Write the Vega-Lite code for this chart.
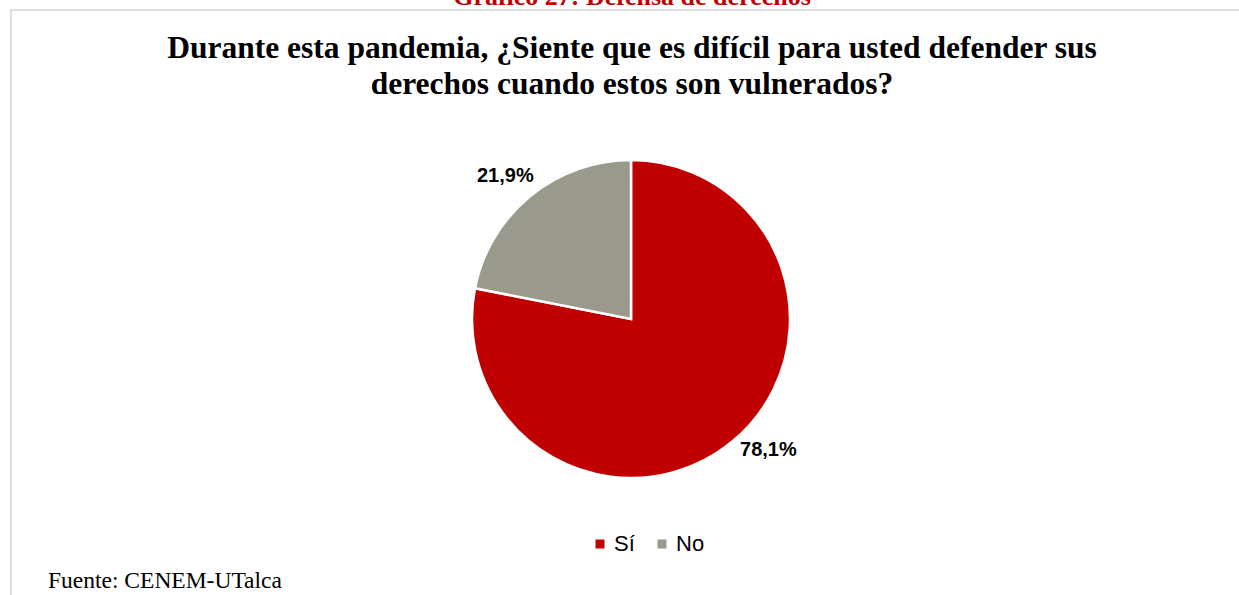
{
  "$schema": "https://vega.github.io/schema/vega-lite/v6.json",
  "width": 1234,
  "height": 590,
  "autosize": "none",
  "padding": {"left": 11, "top": 10, "right": -6, "bottom": -5},
  "background": "white",
  "view": {"stroke": "#d4d4d4", "strokeWidth": 1.5, "fill": "white"},
  "title": {
    "text": "Gráfico 27: Defensa de derechos",
    "subtitle": ["Durante esta pandemia, ¿Siente que es difícil para usted defender sus", "derechos cuando estos son vulnerados?"],
    "anchor": "middle",
    "orient": "top",
    "offset": -90,
    "dx": 4,
    "font": "Liberation Serif",
    "fontSize": 26,
    "fontWeight": "bold",
    "color": "#C00000",
    "subtitleFont": "Liberation Serif",
    "subtitleFontSize": 31.5,
    "subtitleFontWeight": "bold",
    "subtitleColor": "#000000",
    "subtitleLineHeight": 36,
    "subtitlePadding": 23
  },
  "data": {"values": [
    {"cat": "Sí", "pct": 78.1, "label": "78,1%"},
    {"cat": "No", "pct": 21.9, "label": "21,9%"}
  ]},
  "layer": [
    {
      "mark": {"type": "arc", "x": 620, "y": 309, "outerRadius": 159, "stroke": "white", "strokeWidth": 2.5},
      "encoding": {
        "theta": {"field": "pct", "type": "quantitative", "stack": true},
        "order": {"field": "pct", "sort": "descending"},
        "color": {
          "field": "cat", "type": "nominal",
          "scale": {"domain": ["Sí", "No"], "range": ["#C00000", "#9a9a8c"]},
          "legend": {
            "title": null, "orient": "none", "legendX": 578, "legendY": 523,
            "direction": "horizontal", "symbolType": "square", "symbolSize": 81,
            "symbolStrokeWidth": 0, "labelFont": "Liberation Sans", "labelFontSize": 22,
            "labelColor": "#000000", "labelOffset": 3, "columnPadding": 16, "padding": 0
          }
        }
      }
    },
    {
      "mark": {"type": "text", "x": 620, "y": 309, "radius": 188, "font": "Liberation Sans", "fontSize": 20, "fontWeight": "bold", "align": "center", "baseline": "middle", "dx": 18, "dy": -14, "color": "#000000"},
      "encoding": {
        "theta": {"field": "pct", "type": "quantitative", "stack": true},
        "order": {"field": "pct", "sort": "descending"},
        "text": {"field": "label", "type": "nominal", "condition": {"test": "datum.cat !== 'Sí'", "value": ""}}
      }
    },
    {
      "mark": {"type": "text", "x": 620, "y": 309, "radius": 190, "font": "Liberation Sans", "fontSize": 20, "fontWeight": "bold", "align": "center", "baseline": "middle", "dx": -5, "dy": 4, "color": "#000000"},
      "encoding": {
        "theta": {"field": "pct", "type": "quantitative", "stack": true},
        "order": {"field": "pct", "sort": "descending"},
        "text": {"field": "label", "type": "nominal", "condition": {"test": "datum.cat !== 'No'", "value": ""}}
      }
    },
    {
      "data": {"values": [{"nota": "Fuente: CENEM-UTalca"}]},
      "mark": {"type": "text", "x": 37, "y": 578, "align": "left", "baseline": "alphabetic", "font": "Liberation Serif", "fontSize": 23.5, "color": "#000000"},
      "encoding": {"text": {"field": "nota", "type": "nominal"}}
    }
  ]
}
